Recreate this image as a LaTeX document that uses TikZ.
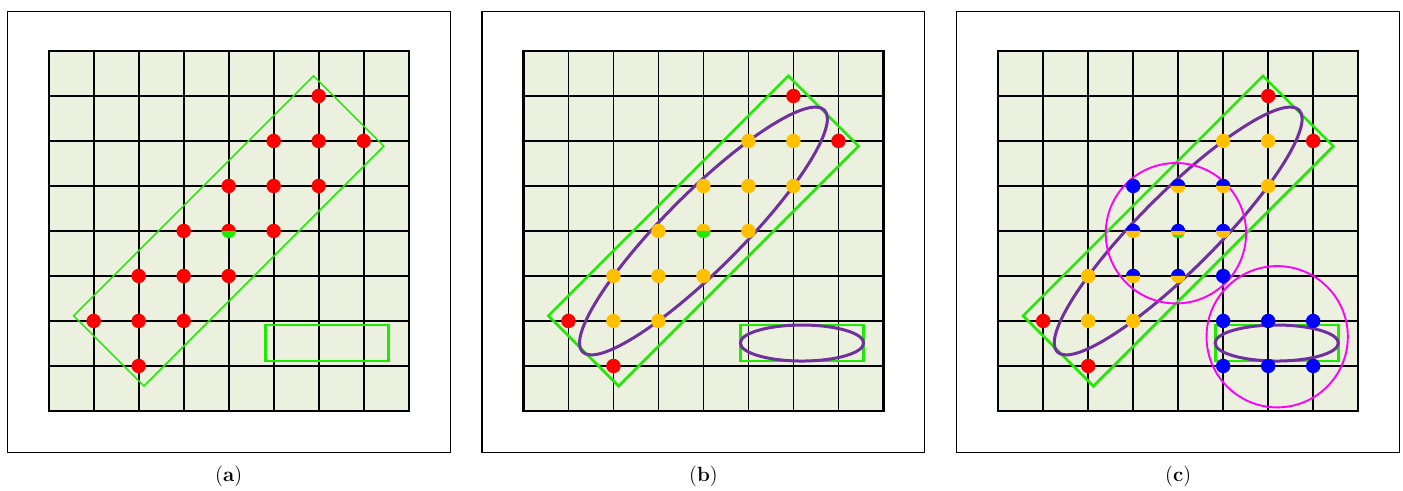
\documentclass[tikz,border=0pt]{standalone}
\usepackage{xcolor}
\usepackage{tikz}

\definecolor{cellfill}{RGB}{235,241,222}
\definecolor{bandgreen}{RGB}{30,235,0}
\definecolor{amber}{RGB}{255,192,0}
\definecolor{plum}{RGB}{112,48,160}
\definecolor{ringpink}{RGB}{255,0,255}

\tikzset{
  frame/.style={draw=black, line width=0.7pt},
  gridline/.style={black, line width=1.1pt},
  thinband/.style={draw=bandgreen, line width=0.9pt},
  band/.style={draw=bandgreen, line width=1.6pt},
  smallbox/.style={draw=bandgreen, line width=1.8pt},
  ell/.style={draw=plum, line width=1.9pt},
  ring/.style={draw=ringpink, line width=1.2pt},
  caption/.style={font=\fontsize{13}{15}\selectfont}
}

\newcommand{\dotr}{0.16}
% frame, cells and grid of one panel
\newcommand{\drawboard}{%
  \draw[frame] (-0.92,-0.92) rectangle (8.92,8.88);
  \fill[cellfill] (0,0) rectangle (8,8);
  \draw[gridline] (0,0) grid (8,8);
  \draw[black, line width=1.5pt] (0,0) rectangle (8,8);}
% dot split in an upper and a lower half
\newcommand{\halfdot}[3]{%
  \fill[#2] (#1) ++(\dotr,0) arc (0:180:\dotr) -- cycle;
  \fill[#3] (#1) ++(-\dotr,0) arc (180:360:\dotr) -- cycle;}

\begin{document}
\begin{tikzpicture}
\useasboundingbox (-1.082,-1.778) rectangle (30.096,9.133);

% (a)
\begin{scope}
\drawboard
\draw[thinband, rotate around={45:(4,4)}] (0.23,2.895) rectangle (7.77,5.105);
\draw[smallbox] (4.82,1.11) rectangle (7.56,1.91);
\foreach \p in {(6,7),(5,6),(6,6),(7,6),(4,5),(5,5),(6,5),(3,4),(5,4),
                (2,3),(3,3),(4,3),(1,2),(2,2),(3,2),(2,1)}
  \fill[red] \p circle (\dotr);
\halfdot{4,4}{red}{bandgreen}
\end{scope}

% (b)
\begin{scope}[xshift=10.55cm]
\drawboard
\draw[band, rotate around={45:(4,4)}] (0.23,2.895) rectangle (7.77,5.105);
\draw[ell, rotate around={45:(4,4)}] (4,4) ellipse (3.8 and 0.85);
\draw[smallbox] (4.82,1.11) rectangle (7.56,1.91);
\draw[ell] (6.19,1.51) ellipse (1.37 and 0.4);
\foreach \p in {(6,7),(7,6),(1,2),(2,1)}
  \fill[red] \p circle (\dotr);
\foreach \p in {(5,6),(6,6),(4,5),(5,5),(6,5),(3,4),(5,4),
                (2,3),(3,3),(4,3),(2,2),(3,2)}
  \fill[amber] \p circle (\dotr);
\halfdot{4,4}{amber}{bandgreen}
\end{scope}

% (c)
\begin{scope}[xshift=21.1cm]
\drawboard
\draw[band, rotate around={45:(4,4)}] (0.23,2.895) rectangle (7.77,5.105);
\draw[ell, rotate around={45:(4,4)}] (4,4) ellipse (3.8 and 0.85);
\draw[smallbox] (4.82,1.11) rectangle (7.56,1.91);
\draw[ell] (6.19,1.51) ellipse (1.37 and 0.4);
\draw[ring] (3.95,3.95) circle (1.56);
\draw[ring] (6.2,1.65) circle (1.57);
\foreach \p in {(6,7),(7,6),(1,2),(2,1)}
  \fill[red] \p circle (\dotr);
\foreach \p in {(5,6),(6,6),(6,5),(2,3),(2,2),(3,2)}
  \fill[amber] \p circle (\dotr);
\foreach \p in {(3,5),(5,3),(5,2),(6,2),(7,2),(5,1),(6,1),(7,1)}
  \fill[blue] \p circle (\dotr);
\foreach \p in {{4,5},{5,5},{3,4},{5,4},{3,3},{4,3}}
  {\halfdot{\p}{blue}{amber}}
% centre dot: three colours
\begin{scope}
  \clip (4,4) circle (\dotr);
  \fill[blue] (4-\dotr,4) rectangle (4+\dotr,4+\dotr);
  \fill[amber] (4-\dotr,4) rectangle (4+\dotr,4-\dotr);
  \fill[bandgreen] (4-\dotr,4-0.55*\dotr) rectangle (4+\dotr,4-\dotr);
\end{scope}
\end{scope}

% captions
\foreach \s/\l in {0/a,10.55/b,21.1/c}
  \node[caption] (cap\l) at (4+\s,-1.45) {(\textbf{\l})};

\end{tikzpicture}
\end{document}
